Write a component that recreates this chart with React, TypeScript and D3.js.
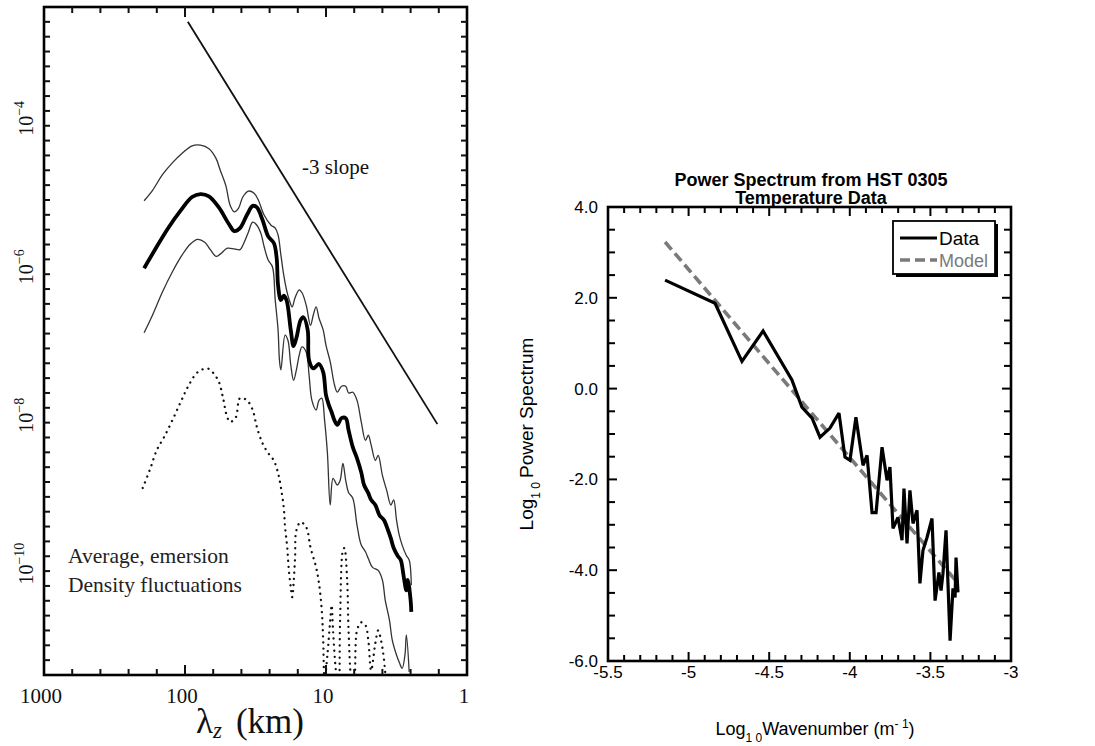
import React from "react";
import * as d3 from "d3";

const W = 1095;
const H = 746;

// ---------- Left panel data: [log10 λz (km), log10 power] ----------
const meanSpectrum: [number, number][] = [
  [2.29, -6.02], [2.21, -5.76], [2.12, -5.48], [2.03, -5.24], [1.95, -5.06], [1.89, -5.02],
  [1.83, -5.05], [1.76, -5.2], [1.69, -5.42], [1.65, -5.52], [1.61, -5.48], [1.56, -5.3],
  [1.52, -5.18], [1.49, -5.2], [1.45, -5.37], [1.41, -5.59], [1.37, -5.68], [1.35, -5.88],
  [1.34, -6.25], [1.32, -6.45], [1.3, -6.39], [1.28, -6.45], [1.25, -6.85], [1.23, -7.07],
  [1.21, -6.96], [1.18, -6.72], [1.16, -6.68], [1.13, -6.85], [1.12, -7.26], [1.09, -7.37],
  [1.05, -7.31], [1.02, -7.42], [1.0, -7.73], [0.98, -7.86], [0.96, -7.96], [0.94, -8.07],
  [0.92, -8.13], [0.89, -8.04], [0.86, -8.04], [0.84, -8.2], [0.81, -8.43], [0.78, -8.58],
  [0.75, -8.77], [0.73, -8.94], [0.7, -9.05], [0.68, -9.14], [0.65, -9.21], [0.62, -9.35],
  [0.59, -9.41], [0.56, -9.55], [0.54, -9.66], [0.52, -9.79], [0.49, -9.9], [0.47, -9.95],
  [0.45, -10.16], [0.43, -10.36], [0.42, -10.22], [0.4, -10.49], [0.395, -10.65],
];

const upperBound: [number, number][] = [
  [2.29, -5.11], [2.23, -4.97], [2.16, -4.76], [2.09, -4.6], [2.02, -4.47], [1.95, -4.37],
  [1.89, -4.36], [1.83, -4.41], [1.78, -4.54], [1.75, -4.7], [1.71, -4.91], [1.68, -5.17],
  [1.65, -5.26], [1.62, -5.21], [1.59, -5.06], [1.55, -4.98], [1.51, -5.01], [1.48, -5.1],
  [1.44, -5.3], [1.39, -5.44], [1.36, -5.48], [1.34, -5.57], [1.32, -5.84], [1.3, -6.11],
  [1.28, -6.31], [1.26, -6.45], [1.24, -6.54], [1.22, -6.42], [1.19, -6.31], [1.17, -6.35],
  [1.14, -6.52], [1.11, -6.79], [1.09, -6.65], [1.07, -6.54], [1.05, -6.69], [1.02, -6.85],
  [1.0, -7.06], [0.97, -7.28], [0.94, -7.59], [0.92, -7.69], [0.89, -7.61], [0.86, -7.61],
  [0.84, -7.7], [0.81, -7.69], [0.78, -7.8], [0.75, -8.09], [0.72, -8.34], [0.7, -8.27],
  [0.68, -8.4], [0.65, -8.61], [0.63, -8.54], [0.6, -8.81], [0.57, -9.01], [0.54, -9.21],
  [0.52, -9.14], [0.5, -9.41], [0.48, -9.62], [0.46, -9.75], [0.43, -9.89], [0.41, -9.95],
  [0.395, -10.29],
];

const lowerBound: [number, number][] = [
  [2.29, -6.89], [2.23, -6.65], [2.16, -6.34], [2.09, -6.07], [2.02, -5.84], [1.96, -5.69],
  [1.91, -5.63], [1.86, -5.67], [1.82, -5.77], [1.78, -5.86], [1.75, -5.83], [1.7, -5.75],
  [1.65, -5.76], [1.61, -5.77], [1.58, -5.67], [1.55, -5.53], [1.52, -5.4], [1.49, -5.44],
  [1.46, -5.56], [1.44, -5.72], [1.41, -5.91], [1.38, -6.0], [1.36, -6.45], [1.34, -6.85],
  [1.33, -7.26], [1.32, -7.39], [1.29, -6.92], [1.27, -6.99], [1.25, -7.32], [1.23, -7.53],
  [1.21, -7.39], [1.19, -7.19], [1.17, -7.08], [1.14, -7.15], [1.12, -7.46], [1.1, -7.8],
  [1.07, -7.93], [1.05, -7.8], [1.03, -7.77], [1.01, -8.07], [0.99, -8.51], [0.97, -9.21],
  [0.95, -8.85], [0.92, -8.94], [0.9, -8.88], [0.88, -8.65], [0.86, -8.88], [0.84, -9.04],
  [0.81, -9.12], [0.78, -9.48], [0.75, -9.75], [0.72, -9.84], [0.7, -9.93], [0.67, -10.05],
  [0.63, -10.09], [0.6, -10.22], [0.58, -10.49], [0.55, -10.76], [0.53, -11.03], [0.5, -11.23],
  [0.48, -11.33], [0.46, -11.41], [0.44, -11.23], [0.43, -10.96], [0.41, -11.46],
];

const dottedSpectrum: [number, number][] = [
  [2.3, -8.98], [2.25, -8.74], [2.2, -8.47], [2.15, -8.3], [2.09, -8.07], [2.03, -7.82],
  [1.98, -7.62], [1.91, -7.42], [1.84, -7.37], [1.8, -7.43], [1.76, -7.55], [1.73, -7.77],
  [1.7, -8.03], [1.68, -8.09], [1.64, -8.03], [1.61, -7.77], [1.56, -7.8], [1.52, -7.93],
  [1.49, -8.16], [1.45, -8.38], [1.41, -8.51], [1.37, -8.61], [1.34, -8.78], [1.32, -8.97],
  [1.3, -9.24], [1.29, -9.51], [1.275, -9.78], [1.265, -10.05], [1.25, -10.32], [1.24, -10.45],
  [1.22, -9.95], [1.21, -9.55], [1.18, -9.44], [1.14, -9.51], [1.11, -9.78], [1.07, -10.05],
  [1.05, -10.26], [1.03, -10.63], [1.02, -11.03], [1.01, -11.57], [0.99, -11.23], [0.97, -10.76],
  [0.96, -10.56], [0.95, -10.9], [0.93, -11.44], [0.91, -11.71], [0.9, -10.76], [0.88, -9.82],
  [0.87, -9.79], [0.85, -10.22], [0.84, -10.9], [0.82, -11.57], [0.8, -11.71], [0.78, -10.9],
  [0.75, -10.79], [0.72, -10.83], [0.7, -11.03], [0.68, -11.44], [0.65, -11.07], [0.63, -10.9],
  [0.61, -11.03], [0.59, -11.27], [0.57, -11.71],
];

const slopeLine: [number, number][] = [[1.98, -2.7], [0.21, -8.12]];

const xTicksLeft = [1000, 100, 10, 1];
const yTicksLeft = [-4, -6, -8, -10];

// ---------- Right panel data ----------
const dataLogK = [
  -5.146, -4.836, -4.669, -4.538, -4.359, -4.297, -4.234, -4.185, -4.123, -4.067, -4.03,
  -3.999, -3.962, -3.918, -3.893, -3.862, -3.837, -3.8, -3.769, -3.751, -3.732, -3.701,
  -3.676, -3.664, -3.645, -3.627, -3.608, -3.583, -3.565, -3.546, -3.521, -3.49, -3.471,
  -3.447, -3.434, -3.422, -3.403, -3.391, -3.378, -3.36, -3.347, -3.341, -3.329,
];
const dataLogP = [
  2.39, 1.88, 0.6, 1.27, 0.19, -0.41, -0.65, -1.07, -0.87, -0.54, -1.51, -1.58, -0.63,
  -1.69, -1.47, -2.73, -2.73, -1.29, -2.02, -1.73, -3.08, -2.84, -3.34, -2.2, -3.41, -2.24,
  -2.97, -2.68, -4.29, -3.56, -3.28, -2.86, -4.67, -4.05, -4.45, -4.07, -3.12, -4.29, -5.55,
  -4.4, -4.6, -3.72, -4.49,
];
const modelLogK = [-5.146, -4.5, -4.0, -3.33];
const modelLogP = [3.23, 0.55, -1.52, -4.28];

const xTicksRight = [-5.5, -5, -4.5, -4, -3.5, -3];
const xTickLabelsRight = ["-5.5", "-5", "-4.5", "-4", "-3.5", "-3"];
const yTicksRight = [4, 2, 0, -2, -4, -6];
const yTickLabelsRight = ["4.0", "2.0", "0.0", "-2.0", "-4.0", "-6.0"];

export default function App() {
  // Left panel scales
  const L = { left: 44, right: 467, top: 7, bottom: 675 };
  const xL = d3.scaleLog().domain([1000, 1]).range([L.left, L.right]);
  const yL = d3.scaleLog().domain([Math.pow(10, -11.5), Math.pow(10, -2.5)]).range([L.bottom, L.top]);
  const lineL = d3
    .line<[number, number]>()
    .x((d) => xL(Math.pow(10, d[0])))
    .y((d) => yL(Math.pow(10, d[1])));
  const smoothL = d3
    .line<[number, number]>()
    .x((d) => xL(Math.pow(10, d[0])))
    .y((d) => yL(Math.pow(10, d[1])))
    .curve(d3.curveCatmullRom.alpha(0.5));

  const leftXTicks: { v: number; major: boolean }[] = [];
  for (let i = 1; i < 15; i++) {
    const lv = 3 - i * 0.2;
    leftXTicks.push({ v: Math.pow(10, lv), major: i % 5 === 0 });
  }
  const leftYTicks: { v: number; major: boolean }[] = [];
  for (let i = 1; i < 45; i++) {
    const lv = -11.5 + i * 0.2;
    const major = Math.abs(lv - Math.round(lv)) < 1e-6;
    leftYTicks.push({ v: Math.pow(10, lv), major });
  }

  // Right panel scales
  const R = { left: 608, right: 1011, top: 207, bottom: 661 };
  const xR = d3.scaleLinear().domain([-5.5, -3]).range([R.left, R.right]);
  const yR = d3.scaleLinear().domain([-6, 4]).range([R.bottom, R.top]);
  const lineR = d3
    .line<number>()
    .x((_, i) => xR(dataLogK[i]))
    .y((d) => yR(d));
  const modelLine = d3
    .line<number>()
    .x((_, i) => xR(modelLogK[i]))
    .y((d) => yR(d));

  const rightXTicks: { v: number; major: boolean }[] = [];
  for (let i = 1; i < 25; i++) rightXTicks.push({ v: -5.5 + i * 0.1, major: i % 5 === 0 });
  const rightYTicks: { v: number; major: boolean }[] = [];
  for (let i = 1; i < 20; i++) rightYTicks.push({ v: -6 + i * 0.5, major: i % 4 === 0 });

  const serif = "'Liberation Serif', 'DejaVu Serif', serif";
  const sans = "'Liberation Sans', Arial, sans-serif";

  return (
    <svg
      width={W}
      height={H}
      viewBox={`0 0 ${W} ${H}`}
      style={{ position: "absolute", left: 0, top: 0, background: "#fff" }}
    >
      <defs>
        <clipPath id="clipL">
          <rect x={L.left} y={L.top} width={L.right - L.left} height={L.bottom - L.top} />
        </clipPath>
      </defs>

      {/* ================= LEFT PANEL ================= */}
      <g>
        <rect
          x={L.left}
          y={L.top}
          width={L.right - L.left}
          height={L.bottom - L.top}
          fill="none"
          stroke="#000"
          strokeWidth={2.6}
        />
        {leftXTicks.map((t, i) => {
          const x = xL(t.v);
          const len = t.major ? 10 : 6;
          return (
            <g key={"lx" + i}>
              <line x1={x} x2={x} y1={L.bottom} y2={L.bottom - len} stroke="#111" strokeWidth={2} />
              <line x1={x} x2={x} y1={L.top} y2={L.top + len} stroke="#111" strokeWidth={2} />
            </g>
          );
        })}
        {leftYTicks.map((t, i) => {
          const y = yL(t.v);
          const len = t.major ? 10 : 6;
          return (
            <g key={"ly" + i}>
              <line x1={L.left} x2={L.left + len} y1={y} y2={y} stroke="#111" strokeWidth={2} />
              <line x1={L.right} x2={L.right - len} y1={y} y2={y} stroke="#111" strokeWidth={2} />
            </g>
          );
        })}

        <g clipPath="url(#clipL)">
          <path d={lineL(slopeLine) || ""} fill="none" stroke="#111" strokeWidth={1.8} />
          <path d={smoothL(upperBound) || ""} fill="none" stroke="#333" strokeWidth={1.3} />
          <path d={smoothL(lowerBound) || ""} fill="none" stroke="#333" strokeWidth={1.3} />
          <path d={smoothL(meanSpectrum) || ""} fill="none" stroke="#000" strokeWidth={3.8} strokeLinejoin="round" />
          <path
            d={smoothL(dottedSpectrum) || ""}
            fill="none"
            stroke="#111"
            strokeWidth={2.3}
            strokeLinecap="round"
            strokeDasharray="0.1,6"
          />
        </g>

        {xTicksLeft.map((t) => (
          <text
            key={"lxl" + t}
            x={xL(t) - 3}
            y={703}
            textAnchor="middle"
            fontFamily={serif}
            fontSize={21}
            fill="#111"
          >
            {t}
          </text>
        ))}
        {yTicksLeft.map((t) => {
          const y = yL(Math.pow(10, t));
          return (
            <text
              key={"lyl" + t}
              transform={`translate(33,${y}) rotate(-90)`}
              textAnchor="middle"
              fontFamily={serif}
              fontSize={20}
              fill="#111"
            >
              10
              <tspan dy={-9} fontSize={14}>
                {"\u2212" + Math.abs(t)}
              </tspan>
            </text>
          );
        })}

        <text x={302} y={174} fontFamily={serif} fontSize={21} fill="#111">
          -3 slope
        </text>
        <text x={68} y={563} fontFamily={serif} fontSize={21.5} fill="#222">
          Average, emersion
        </text>
        <text x={68} y={592} fontFamily={serif} fontSize={21.5} fill="#222">
          Density fluctuations
        </text>

        <text x={196} y={733} fontFamily={serif} fontSize={35} fill="#111">
          <tspan>λ</tspan>
          <tspan fontStyle="italic" fontSize={23} dy={5}>
            z
          </tspan>
          <tspan dy={-5} dx={14}>
            (km)
          </tspan>
        </text>
      </g>

      {/* ================= RIGHT PANEL ================= */}
      <g>
        <text x={811} y={186} textAnchor="middle" fontFamily={sans} fontWeight="bold" fontSize={18} fill="#000">
          Power Spectrum from HST 0305
        </text>
        <text x={811} y={204} textAnchor="middle" fontFamily={sans} fontWeight="bold" fontSize={18} fill="#000">
          Temperature Data
        </text>

        <rect
          x={R.left}
          y={R.top}
          width={R.right - R.left}
          height={R.bottom - R.top}
          fill="none"
          stroke="#000"
          strokeWidth={2.6}
        />
        {rightXTicks.map((t, i) => {
          const x = xR(t.v);
          const len = t.major ? 9 : 6;
          return (
            <g key={"rx" + i}>
              <line x1={x} x2={x} y1={R.bottom} y2={R.bottom - len} stroke="#000" strokeWidth={2} />
              <line x1={x} x2={x} y1={R.top} y2={R.top + len} stroke="#000" strokeWidth={2} />
            </g>
          );
        })}
        {rightYTicks.map((t, i) => {
          const y = yR(t.v);
          const len = t.major ? 9 : 7;
          return (
            <g key={"ry" + i}>
              <line x1={R.left} x2={R.left + len} y1={y} y2={y} stroke="#000" strokeWidth={2} />
              <line x1={R.right} x2={R.right - len} y1={y} y2={y} stroke="#000" strokeWidth={2} />
            </g>
          );
        })}

        <path
          d={modelLine(modelLogP) || ""}
          fill="none"
          stroke="#7a7a7a"
          strokeWidth={3.6}
          strokeDasharray="10,5"
        />
        <path
          d={lineR(dataLogP) || ""}
          fill="none"
          stroke="#000"
          strokeWidth={3.2}
          strokeLinejoin="miter"
          strokeMiterlimit={3}
        />

        {xTicksRight.map((t, i) => (
          <text
            key={"rxl" + i}
            x={xR(t)}
            y={678}
            textAnchor="middle"
            fontFamily={sans}
            fontSize={17}
            fill="#000"
          >
            {xTickLabelsRight[i]}
          </text>
        ))}
        {yTicksRight.map((t, i) => (
          <text
            key={"ryl" + i}
            x={598}
            y={yR(t) + 6}
            textAnchor="end"
            fontFamily={sans}
            fontSize={17}
            fill="#000"
          >
            {yTickLabelsRight[i]}
          </text>
        ))}

        <text
          transform={`translate(533,${(R.top + R.bottom) / 2}) rotate(-90)`}
          textAnchor="middle"
          fontFamily={sans}
          fontSize={19}
          fill="#000"
        >
          Log
          <tspan fontSize={12} dy={7}>
            1 0
          </tspan>
          <tspan dy={-7} dx={4}>
            Power Spectrum
          </tspan>
        </text>
        <text x={815} y={735} textAnchor="middle" fontFamily={sans} fontSize={18} fill="#000">
          Log
          <tspan fontSize={12} dy={7}>
            1 0
          </tspan>
          <tspan dy={-7}>Wavenumber (m</tspan>
          <tspan fontSize={12} dy={-7}>
            - 1
          </tspan>
          <tspan dy={7}>)</tspan>
        </text>

        {/* legend */}
        <rect x={896} y={224} width={102} height={53} fill="#000" />
        <rect x={893} y={221} width={102} height={53} fill="#fff" stroke="#000" strokeWidth={1.8} />
        <line x1={900} x2={937} y1={238} y2={238} stroke="#000" strokeWidth={3.2} />
        <text x={939} y={245} fontFamily={sans} fontSize={19} fill="#000">
          Data
        </text>
        <line x1={900} x2={937} y1={260} y2={260} stroke="#7a7a7a" strokeWidth={3.6} strokeDasharray="10,5" />
        <text x={939} y={267} fontFamily={sans} fontSize={18} fill="#7a7a7a">
          Model
        </text>
      </g>
    </svg>
  );
}
